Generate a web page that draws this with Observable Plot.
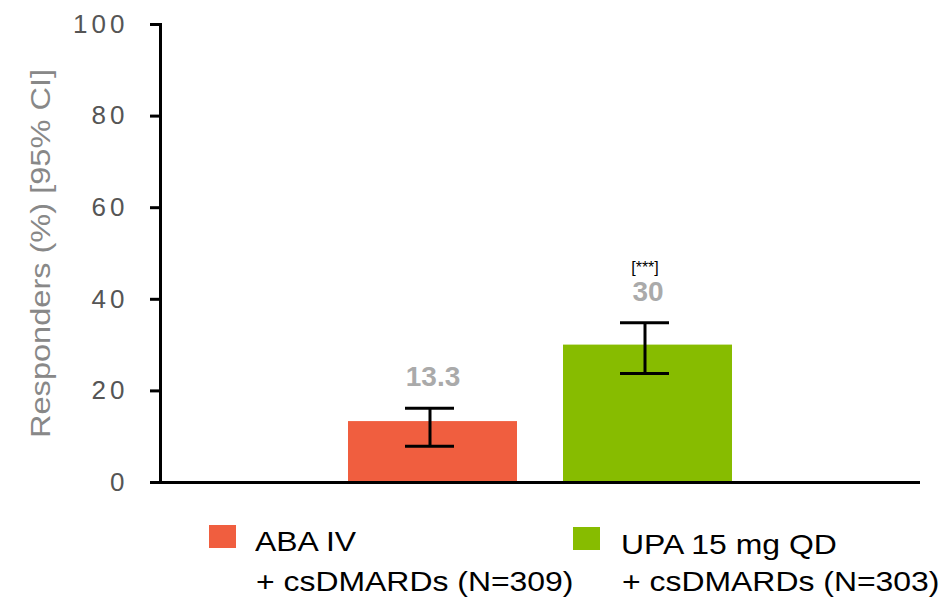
<!DOCTYPE html>
<html>
<head>
<meta charset="utf-8">
<script src="https://cdn.jsdelivr.net/npm/d3@7"></script>
<script src="https://cdn.jsdelivr.net/npm/@observablehq/plot@0.6"></script>
<style>
  html, body { margin: 0; padding: 0; background: #fff; }
  #wrap { position: relative; width: 951px; height: 599px; overflow: hidden; font-family: "Liberation Sans", Arial, sans-serif; }
  #chart { position: absolute; left: 0; top: 0; }
  .sw { position: absolute; }
  .lt { position: absolute; font-size: 28px; line-height: 40px; color: #000; white-space: nowrap; transform: scaleX(1.14); transform-origin: 0 0; }
</style>
</head>
<body>
<div id="wrap">
  <div id="chart"></div>
  <div id="legend"></div>
</div>
<script>
// ---- data ----
const groups = ["ABA IV + csDMARDs (N=309)", "UPA 15 mg QD + csDMARDs (N=303)"];
const responders = [13.3, 30];
const ciLow = [7.9, 23.8];
const ciHigh = [16.2, 34.9];
const valueLabels = ["13.3", "30"];
const significance = ["", "[***]"];
const colors = ["#F05E3F", "#87BC00"];
const yTicks = [0, 20, 40, 60, 80, 100];
const yLabel = "Responders (%) [95% CI]";
const legendLine1 = ["ABA IV", "UPA 15 mg QD"];
const legendLine2 = ["+ csDMARDs (N=309)", "+ csDMARDs (N=303)"];

const rows = groups.map((g, i) => ({
  group: g, value: responders[i], lo: ciLow[i], hi: ciHigh[i],
  label: valueLabels[i], sig: significance[i]
}));

const chart = Plot.plot({
  width: 951,
  height: 500,
  marginLeft: 160,
  marginRight: 31,
  marginTop: 24,
  marginBottom: 18,
  style: { fontFamily: "Liberation Sans, Arial, sans-serif", background: "#fff" },
  x: { domain: groups, range: [301, 779], padding: 0.213, axis: null },
  y: { domain: [0, 100], label: null, axis: null },
  color: { domain: groups, range: colors },
  marks: [
    Plot.barY(rows, { x: "group", y: "value", fill: "group" }),
    Plot.ruleX(rows, { x: "group", y1: "lo", y2: "hi", stroke: "#000", strokeWidth: 3, dx: -3 }),
    Plot.tickY(rows, { x: "group", y: "lo", stroke: "#000", strokeWidth: 3, insetLeft: 60, insetRight: 60, dx: -3 }),
    Plot.tickY(rows, { x: "group", y: "hi", stroke: "#000", strokeWidth: 3, insetLeft: 60, insetRight: 60, dx: -3 }),
    Plot.text(rows, { x: "group", y: "hi", text: "label", dy: -31, fontSize: 28, fontWeight: "bold", fill: "#aaa", lineAnchor: "middle" }),
    Plot.text(rows, { x: "group", y: "hi", text: "sig", dy: -55, dx: -3, fontSize: 16, fill: "#000", lineAnchor: "middle" }),
    Plot.axisY({ ticks: yTicks, tickSize: 10, tickPadding: 22, strokeWidth: 3, fontSize: 26, fill: "#555", label: null }),
    Plot.frame({ anchor: "left", strokeWidth: 3 }),
    Plot.ruleY([0], { stroke: "#000", strokeWidth: 3 }),
    Plot.text([yLabel], { frameAnchor: "left", text: d => d, rotate: -90, dx: -119, textAnchor: "middle", lineAnchor: "middle", fontSize: 27, fill: "#888" })
  ]
});
document.getElementById("chart").appendChild(chart);

// stretch text to match the reference's proportions
const tickStrings = yTicks.map(String);
d3.select(chart).selectAll("text").each(function () {
  const t = this.textContent;
  if (t === yLabel) {
    d3.select(this).attr("textLength", 369).attr("lengthAdjust", "spacingAndGlyphs");
  } else if (tickStrings.includes(t)) {
    d3.select(this).style("letter-spacing", "4px");
  }
});

// legend
const legend = d3.select("#legend");
const swatchPos = [{ x: 209, y: 525 }, { x: 573, y: 527 }];
const textPos = [{ x: 255, y: 522 }, { x: 621, y: 525 }];
groups.forEach((g, i) => {
  legend.append("div").attr("class", "sw")
    .style("left", swatchPos[i].x + "px").style("top", swatchPos[i].y + "px")
    .style("width", "27px").style("height", "23px").style("background", colors[i]);
  legend.append("div").attr("class", "lt")
    .style("left", textPos[i].x + "px").style("top", textPos[i].y + "px")
    .text(legendLine1[i]);
  legend.append("div").attr("class", "lt")
    .style("left", (textPos[i].x + 1) + "px").style("top", "562px")
    .text(legendLine2[i]);
});
</script>
</body>
</html>
